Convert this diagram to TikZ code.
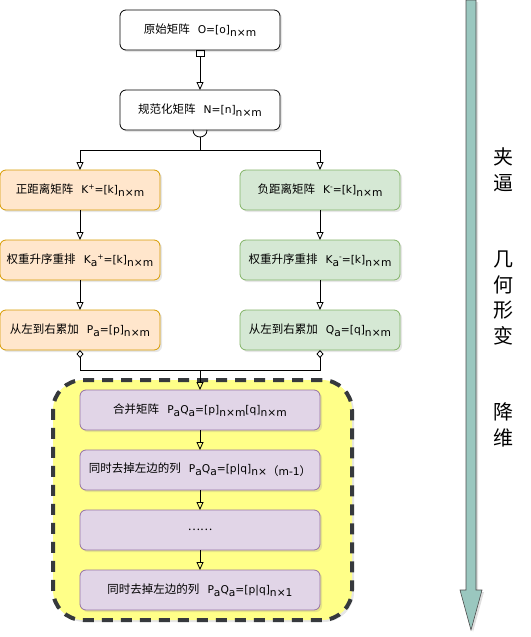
\documentclass[tikz,border=0pt]{standalone}
\usepackage{fontspec}
\setmainfont{Noto Sans CJK SC}
\newfontfamily\lat{DejaVu Sans}[Scale=0.93]
\usetikzlibrary{positioning}
\usetikzlibrary{arrows.meta}
\usetikzlibrary{shadows}
\definecolor{posfill}{HTML}{FFE6CC}
\definecolor{posline}{HTML}{D79B00}
\definecolor{negfill}{HTML}{D5E8D4}
\definecolor{negline}{HTML}{82B366}
\definecolor{dimfill}{HTML}{E1D5E7}
\definecolor{dimline}{HTML}{9673A6}
\definecolor{grpfill}{HTML}{FFFF88}
\definecolor{grpline}{HTML}{36393D}
\definecolor{bigfill}{HTML}{9AC7BF}
\newcommand{\lo}[1]{\raisebox{-0.45ex}{#1}}
\newcommand{\hi}[1]{\raisebox{0.7ex}{\footnotesize #1}}
\newcommand{\gap}{\hspace{0.7em}}

\begin{document}
\begin{tikzpicture}[x=1pt,y=-1pt,
    box/.style={rounded corners=6pt,minimum width=160pt,minimum height=40pt,inner sep=0pt,outer sep=0pt,line width=0.8pt,
        font=\fontsize{11.5}{13}\selectfont,drop shadow={opacity=0.2,shadow xshift=2pt,shadow yshift=-2pt}},
    plainbox/.style={box,draw=black,fill=white},
    posbox/.style={box,draw=posline,fill=posfill},
    negbox/.style={box,draw=negline,fill=negfill},
    dimbox/.style={box,draw=dimline,fill=dimfill,minimum width=240pt},
    tri/.style={-{Triangle[open,length=8pt,width=7pt]}},
    line/.style={draw=black,line width=0.8pt}]
    \useasboundingbox (0,0) rectangle (530,637);
    % big arrow on the right
    \filldraw[fill=bigfill,draw=black!70,line width=0.6pt,drop shadow={opacity=0.25,shadow xshift=2pt,shadow yshift=-2pt}]
        (466,0) -- (476,0) -- (476,590) -- (482,590) -- (471,630) -- (460,590) -- (466,590) -- cycle;
    \node[font=\fontsize{20}{25.5}\selectfont,align=center] (T) at (503,297.5) {夹\\逼\\[51pt]几\\何\\形\\变\\[51pt]降\\维};

    \node[plainbox] (O) at (200,30) {原始矩阵\gap{\lat O=[o]\lo{n×m}}};
    \node[plainbox] (N) at (200,110) {规范化矩阵\gap{\lat N=[n]\lo{n×m}}};

    \node[posbox] (Kp) at (80,190) {正距离矩阵\gap{\lat K\hi{+}=[k]\lo{n×m}}};
    \node[posbox] (Kap) at (80,260) {权重升序重排\gap{\lat K\lo{a}\hi{+}=[k]\lo{n×m}}};
    \node[posbox] (Pa) at (80,330) {从左到右累加\gap{\lat P\lo{a}=[p]\lo{n×m}}};
    \node[negbox] (Km) at (320,190) {负距离矩阵\gap{\lat K\hi{-}=[k]\lo{n×m}}};
    \node[negbox] (Kam) at (320,260) {权重升序重排\gap{\lat K\lo{a}\hi{-}=[k]\lo{n×m}}};
    \node[negbox] (Qa) at (320,330) {从左到右累加\gap{\lat Q\lo{a}=[q]\lo{n×m}}};

    \node[draw=grpline,fill=grpfill,line width=4pt,dash pattern=on 11pt off 8pt,rounded corners=30pt,
        minimum width=299pt,minimum height=240pt,drop shadow={opacity=0.2,shadow xshift=2pt,shadow yshift=-2pt}] (G) at (202.5,500) {};
    \node[dimbox] (M1) at (200,410) {合并矩阵\gap{\lat P\lo{a}Q\lo{a}=[p]\lo{n×m}[q]\lo{n×m}}};
    \node[dimbox] (M2) at (200,470) {同时去掉左边的列\gap{\lat P\lo{a}Q\lo{a}=[p|q]\lo{n×{\rmfamily（}m-1{\rmfamily）}}}};
    \node[dimbox] (M3) at (200,530) {……};
    \node[dimbox] (M4) at (200,590) {同时去掉左边的列\gap{\lat P\lo{a}Q\lo{a}=[p|q]\lo{n×1}}};

    \coordinate (C) at (200,137);
    \coordinate (S1) at (200,150);
    \coordinate (S2) at (200,370);
    \draw[line,{Square[open,length=7pt,width=9pt]}-{Triangle[open,length=8pt,width=7pt]}] (O) -- (N);
    \draw[line] (193,130) .. controls (193,139.3) and (207,139.3) .. (207,130);
    \draw[line] (C) -- (S1);
    \draw[line,tri] (S1) -| (Kp);
    \draw[line,tri] (S1) -| (Km);
    \draw[line,tri] (Kp) -- (Kap);
    \draw[line,tri] (Kap) -- (Pa);
    \draw[line,tri] (Km) -- (Kam);
    \draw[line,tri] (Kam) -- (Qa);
    \draw[line,{Diamond[open,length=8pt,width=7pt]}-] (Pa) |- (S2);
    \draw[line,{Diamond[open,length=8pt,width=7pt]}-] (Qa) |- (S2);
    \draw[line,tri] (S2) -- (M1);
    \draw[line,tri] (M1) -- (M2);
    \draw[line,tri] (M2) -- (M3);
    \draw[line,tri] (M3) -- (M4);
\end{tikzpicture}
\end{document}
